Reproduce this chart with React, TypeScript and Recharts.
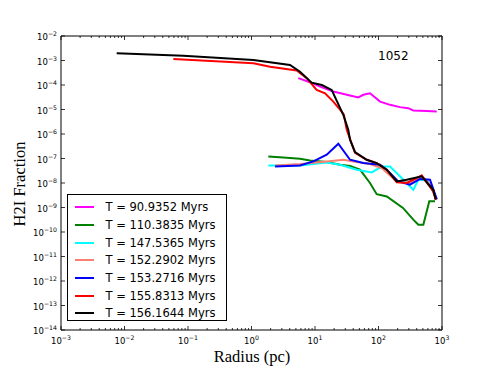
import React from "react";
import { Legend, Line, LineChart, XAxis, YAxis } from "recharts";

// radius (pc) / fraction pairs
const names = [
  "T = 90.9352 Myrs",
  "T = 110.3835 Myrs",
  "T = 147.5365 Myrs",
  "T = 152.2902 Myrs",
  "T = 153.2716 Myrs",
  "T = 155.8313 Myrs",
  "T = 156.1644 Myrs",
];
const colors = ["#ff00ff", "#008000", "#00ffff", "#fa8072", "#0000ff", "#ff0000", "#000000"];

const r0 = [5.46, 8.34, 12.0, 19.4, 35.6, 48.1, 57.7, 73.5, 106, 152, 218, 294, 353, 574, 826];
const f0 = [1.9e-4, 1.3e-4, 8.6e-5, 5.4e-5, 3.7e-5, 3.1e-5, 4.0e-5, 4.6e-5, 2.1e-5, 1.55e-5, 1.25e-5, 1.13e-5, 9.1e-6, 8.6e-6, 8.2e-6];

const r1 = [1.84, 3.17, 5.81, 8.34, 15.3, 24.8, 35.6, 51.1, 73.5, 93.7, 135, 243, 353, 424, 508, 631, 776];
const f1 = [1.21e-7, 1.1e-7, 9.8e-8, 8.3e-8, 7.2e-8, 5.6e-8, 5.0e-8, 3.5e-8, 1.0e-8, 3.5e-9, 2.8e-9, 9.6e-10, 3.2e-10, 2.0e-10, 2.0e-10, 1.8e-9, 1.8e-9];

const r2 = [1.84, 5.81, 15.3, 24.8, 45.4, 78.2, 112, 152, 232, 294, 353, 424, 574, 703, 826];
const f2 = [5.2e-8, 5.2e-8, 6.9e-8, 5.6e-8, 3.5e-8, 2.7e-8, 4.7e-8, 4.7e-8, 1.6e-8, 8.5e-9, 5.3e-9, 1.36e-8, 1.36e-8, 5.3e-9, 2.1e-9];

const r3 = [2.35, 5.81, 15.3, 27.9, 40.1, 73.5, 112, 194, 313, 479, 647, 826];
const f3 = [5.2e-8, 5.9e-8, 7.6e-8, 8.9e-8, 7.6e-8, 5.9e-8, 4.1e-8, 1.16e-8, 1.0e-8, 2.0e-8, 8.5e-9, 2.1e-9];

const r4 = [2.35, 5.81, 9.4, 15.3, 23.3, 35.6, 57.7, 106, 135, 205, 313, 451, 647, 826];
const f4 = [4.7e-8, 5.2e-8, 7.6e-8, 1.42e-7, 4.0e-7, 8.9e-8, 6.5e-8, 5.6e-8, 3.5e-8, 1.16e-8, 8.5e-9, 1.46e-8, 1.36e-8, 2.2e-9];

const r5 = [0.0588, 1.07, 1.96, 5.15, 7.4, 10.6, 14.4, 19.4, 26.3, 28.5, 31.6, 42.7, 65.2, 93.7, 135, 194, 278, 479, 729, 796];
const f5 = [1.16e-3, 7.7e-4, 5.6e-4, 3.9e-4, 1.9e-4, 6.3e-5, 4.6e-5, 2.1e-5, 8.2e-6, 6.1e-6, 1.5e-6, 1.7e-7, 8.9e-8, 6.5e-8, 3.5e-8, 1.06e-8, 1.0e-8, 2.0e-8, 4.5e-9, 2.1e-9];

const r6 = [0.00753, 0.0843, 1.07, 4.04, 5.81, 8.87, 12.8, 18.3, 27.9, 33.4, 35.6, 42.7, 65.2, 93.7, 135, 194, 278, 479, 729, 796];
const f6 = [1.97e-3, 1.58e-3, 1.05e-3, 6.6e-4, 3.5e-4, 1.25e-4, 1.0e-4, 6.3e-5, 6.1e-6, 1.5e-6, 5.8e-7, 1.83e-7, 8.9e-8, 6.5e-8, 3.5e-8, 1.16e-8, 1.36e-8, 1.86e-8, 5.3e-9, 2.1e-9];

const radii = [r0, r1, r2, r3, r4, r5, r6];
const fracs = [f0, f1, f2, f3, f4, f5, f6];

const xDecades = [1e-3, 1e-2, 1e-1, 1, 10, 100, 1000];
const minorSteps = [1, 2, 3, 4, 5, 6, 7, 8, 9];
const xTicks = xDecades.flatMap((d, i) =>
  i < xDecades.length - 1 ? minorSteps.map((m) => m * d) : [d]
);
const yTicks = [1e-14, 1e-13, 1e-12, 1e-11, 1e-10, 1e-9, 1e-8, 1e-7, 1e-6, 1e-5, 1e-4, 1e-3, 1e-2];

const series = names.map((name, i) => ({
  name,
  color: colors[i],
  data: radii[i].map((r, j) => ({ r, f: fracs[i][j] })),
}));

const FONT = "DejaVu Sans";

const expOf = (v: number) => Math.round(Math.log10(v));
const isMajor = (v: number) => Math.abs(Math.log10(v) - expOf(v)) < 1e-6;
const expText = (v: number) => {
  const e = expOf(v);
  return e < 0 ? "\u2212" + Math.abs(e) : String(e);
};

const XTick = (props: any) => {
  const { x, y, payload, side } = props;
  const v = payload.value;
  const major = isMajor(v);
  const len = major ? 4 : 2;
  const dir = side === "top" ? 1 : -1;
  return (
    <g>
      <line x1={x} x2={x} y1={y} y2={y + dir * len} stroke="#000" strokeWidth={0.8} />
      {side === "bottom" && major && (
        <text x={x} y={y + 14} textAnchor="middle" fontFamily={FONT} fontSize={8.5} fill="#000">
          10
          <tspan dy={-4} fontSize={6.2}>
            {expText(v)}
          </tspan>
        </text>
      )}
    </g>
  );
};

const YTick = (props: any) => {
  const { x, y, payload, side } = props;
  const v = payload.value;
  const dir = side === "right" ? -1 : 1;
  return (
    <g>
      <line x1={x} x2={x + dir * 4} y1={y} y2={y} stroke="#000" strokeWidth={0.8} />
      {side === "left" && (
        <text x={x - 4} y={y + 4} textAnchor="end" fontFamily={FONT} fontSize={8.5} fill="#000">
          10
          <tspan dy={-4} fontSize={6.2}>
            {expText(v)}
          </tspan>
        </text>
      )}
    </g>
  );
};

const LegendBox = () => (
  <div
    style={{
      boxSizing: "border-box",
      width: 160,
      height: 127,
      border: "1px solid #000",
      background: "#fff",
      paddingTop: 3.5,
      fontFamily: FONT,
      fontSize: 11.5,
      color: "#000",
    }}
  >
    {series.map((s) => (
      <div key={s.name} style={{ display: "flex", alignItems: "center", height: 17.7 }}>
        <div style={{ marginLeft: 7, width: 19, height: 2, background: s.color }} />
        <span style={{ marginLeft: 11.5, whiteSpace: "nowrap" }}>{s.name}</span>
      </div>
    ))}
  </div>
);

const axisLine = { stroke: "#000", strokeWidth: 1 };

export default function App() {
  return (
    <div style={{ position: "absolute", left: 0, top: 0, width: 491, height: 368, background: "#fff" }}>
      <LineChart width={491} height={368} margin={{ top: 0, right: 0, bottom: 0, left: 0 }}>
        <XAxis
          xAxisId="b"
          dataKey="r"
          type="number"
          scale="log"
          domain={[1e-3, 1e3]}
          allowDataOverflow
          ticks={xTicks}
          interval={0}
          height={38}
          tickSize={0}
          tickMargin={0}
          axisLine={axisLine}
          tickLine={false}
          tick={<XTick side="bottom" />}
        />
        <XAxis
          xAxisId="t"
          orientation="top"
          dataKey="r"
          type="number"
          scale="log"
          domain={[1e-3, 1e3]}
          allowDataOverflow
          ticks={xTicks}
          interval={0}
          height={36}
          tickSize={0}
          tickMargin={0}
          axisLine={axisLine}
          tickLine={false}
          tick={<XTick side="top" />}
        />
        <YAxis
          yAxisId="l"
          type="number"
          scale="log"
          domain={[1e-14, 1e-2]}
          allowDataOverflow
          ticks={yTicks}
          interval={0}
          width={61}
          tickSize={0}
          tickMargin={0}
          axisLine={axisLine}
          tickLine={false}
          tick={<YTick side="left" />}
        />
        <YAxis
          yAxisId="r"
          orientation="right"
          type="number"
          scale="log"
          domain={[1e-14, 1e-2]}
          allowDataOverflow
          ticks={yTicks}
          interval={0}
          width={49}
          tickSize={0}
          tickMargin={0}
          axisLine={axisLine}
          tickLine={false}
          tick={<YTick side="right" />}
        />
        {series.map((s) => (
          <Line
            key={s.name}
            xAxisId="b"
            yAxisId="l"
            data={s.data}
            dataKey="f"
            name={s.name}
            type="linear"
            stroke={s.color}
            strokeWidth={2}
            dot={false}
            activeDot={false}
            isAnimationActive={false}
          />
        ))}
        <Legend
          layout="vertical"
          align="center"
          verticalAlign="middle"
          content={() => <LegendBox />}
          wrapperStyle={{ left: 67, top: 194, width: 160, height: 127 }}
        />
      </LineChart>
      <div
        style={{
          position: "absolute",
          left: 378,
          top: 49,
          fontFamily: FONT,
          fontSize: 12,
          color: "#000",
        }}
      >
        1052
      </div>
      <div
        style={{
          position: "absolute",
          left: 152,
          width: 200,
          top: 347,
          textAlign: "center",
          fontFamily: "Liberation Serif",
          fontSize: 16.5,
          color: "#000",
          lineHeight: "20px",
        }}
      >
        Radius (pc)
      </div>
      <div
        style={{
          position: "absolute",
          left: 20,
          top: 184,
          transform: "translate(-50%, -50%) rotate(-90deg)",
          fontFamily: "Liberation Serif",
          fontSize: 16.5,
          color: "#000",
          whiteSpace: "nowrap",
          lineHeight: "20px",
        }}
      >
        H2I Fraction
      </div>
    </div>
  );
}
